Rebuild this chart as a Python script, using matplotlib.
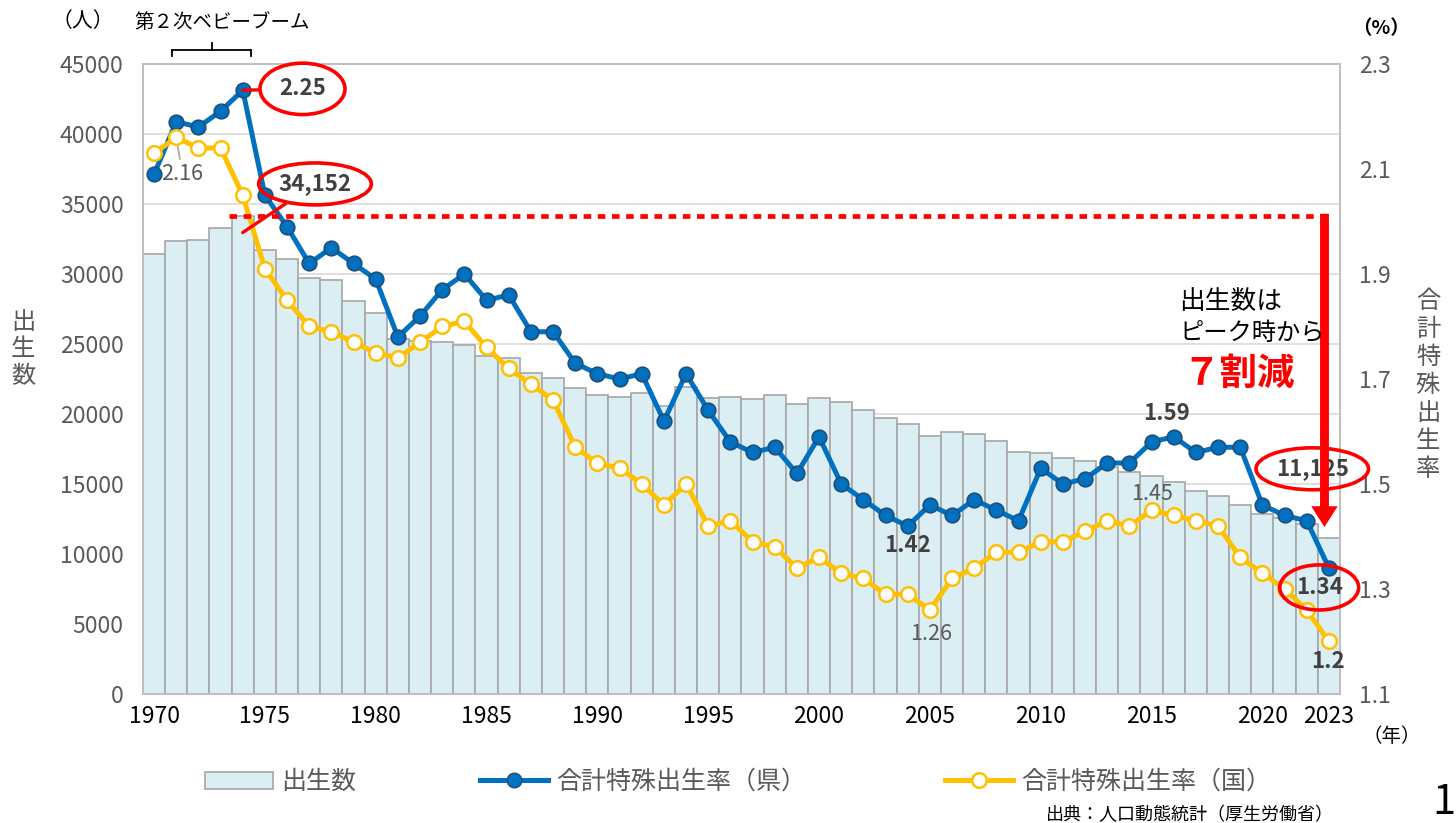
import matplotlib
matplotlib.use('Agg')
import matplotlib.pyplot as plt
from matplotlib.lines import Line2D
from matplotlib.patches import Patch
from matplotlib.transforms import offset_copy

plt.rcParams['font.family'] = ['Noto Sans CJK JP', 'DejaVu Sans']

years = list(range(1970, 2024))
births = [31400, 32360, 32450, 33260, 34152, 31690, 31070, 29740, 29600, 28050,
          27190, 25340, 25250, 25170, 24930, 24140, 23980, 22900, 22550, 21830,
          21330, 21240, 21480, 20600, 21950, 21120, 21240, 21070, 21380, 20710,
          21170, 20830, 20290, 19690, 19310, 18450, 18740, 18600, 18070, 17310,
          17190, 16860, 16620, 16190, 15830, 15600, 15120, 14480, 14140, 13500,
          12830, 12550, 12120, 11125]
tfr_pref = [2.09, 2.19, 2.18, 2.21, 2.25, 2.05, 1.99, 1.92, 1.95, 1.92,
            1.89, 1.78, 1.82, 1.87, 1.90, 1.85, 1.86, 1.79, 1.79, 1.73,
            1.71, 1.70, 1.71, 1.62, 1.71, 1.64, 1.58, 1.56, 1.57, 1.52,
            1.59, 1.50, 1.47, 1.44, 1.42, 1.46, 1.44, 1.47, 1.45, 1.43,
            1.53, 1.50, 1.51, 1.54, 1.54, 1.58, 1.59, 1.56, 1.57, 1.57,
            1.46, 1.44, 1.43, 1.34]
tfr_nat = [2.13, 2.16, 2.14, 2.14, 2.05, 1.91, 1.85, 1.80, 1.79, 1.77,
           1.75, 1.74, 1.77, 1.80, 1.81, 1.76, 1.72, 1.69, 1.66, 1.57,
           1.54, 1.53, 1.50, 1.46, 1.50, 1.42, 1.43, 1.39, 1.38, 1.34,
           1.36, 1.33, 1.32, 1.29, 1.29, 1.26, 1.32, 1.34, 1.37, 1.37,
           1.39, 1.39, 1.41, 1.43, 1.42, 1.45, 1.44, 1.43, 1.42, 1.36,
           1.33, 1.30, 1.26, 1.20]
xticks = [1970, 1975, 1980, 1985, 1990, 1995, 2000, 2005, 2010, 2015, 2020, 2023]
left_ticks = list(range(0, 45001, 5000))
right_ticks = [1.1, 1.3, 1.5, 1.7, 1.9, 2.1, 2.3]

W, H = 1456, 823
def fx(px):
    return px / W
def fy(py):
    return 1 - py / H

BLUE = '#0070C0'
YEL = '#FFC000'
GRAY = '#595959'
DARK = '#404040'

fig = plt.figure(figsize=(W / 100, H / 100), dpi=100)
ax = fig.add_axes([fx(143), fy(694), 1197 / W, 630 / H])

ax.bar(years, births, width=1.0, color='#DAEEF3', edgecolor='#A6A6A6', linewidth=1.2, zorder=2)
ax.set_xlim(1969.5, 2023.5)
ax.set_ylim(0, 45000)
ax.set_yticks(left_ticks)
ax.set_xticks(xticks)
ax.set_axisbelow(True)
ax.yaxis.grid(True, color='#D9D9D9', linewidth=1.2)
ax.tick_params(axis='y', length=0, labelsize=16.5, labelcolor=GRAY, pad=14)
ax.tick_params(axis='x', length=0, labelsize=16.5, labelcolor='black', pad=8)

ax2 = ax.twinx()
ax2.plot(years, tfr_pref, color=BLUE, lw=3.6, marker='o', ms=10.5,
         mfc=BLUE, mec='#1F4E79', mew=1.2, zorder=3)
ax2.plot(years, tfr_nat, color=YEL, lw=3.6, marker='o', ms=10.5,
         mfc='white', mec=YEL, mew=1.8, zorder=4)

for a in (ax, ax2):
    for s in a.spines.values():
        s.set_color('#BFBFBF')
        s.set_linewidth(1.3)
ax2.tick_params(axis='y', length=0, labelsize=16.5, labelcolor=GRAY, pad=14)

# peak line and arrow
i_peak = births.index(max(births))
peak = births[i_peak]
ax2.plot([years[i_peak] - 0.6, years[-1] - 0.2], [peak, peak], transform=ax.transData,
         color='#FF0000', lw=3.4, linestyle=(0, (1.6, 1.4)), zorder=6)
ax2.annotate('', xy=(years[-1] - 0.2, births[-1] + 800), xycoords=ax.transData,
             xytext=(years[-1] - 0.2, peak + 150), textcoords=ax.transData,
             arrowprops=dict(arrowstyle='simple,head_length=0.75,head_width=0.95,tail_width=0.32',
                             color='#FF0000', lw=0, mutation_scale=20, shrinkA=0, shrinkB=0),
             zorder=8)

ell = dict(boxstyle='ellipse,pad=0.15', fc='none', ec='#FF0000', lw=2.6)
lab = dict(fontsize=16, fontweight='bold', color=DARK, ha='center', va='center')
plain = dict(fontsize=15.5, color=GRAY, ha='center', va='center')

i_tmax = tfr_pref.index(max(tfr_pref))
ax2.annotate(f'{tfr_pref[i_tmax]:.2f}', xy=(years[i_tmax], tfr_pref[i_tmax]),
             xytext=(43, 1), textcoords='offset points', bbox=dict(ell, boxstyle='ellipse,pad=0.3'),
             arrowprops=dict(arrowstyle='-', color='#FF0000', lw=2.4, shrinkA=0, shrinkB=0),
             zorder=7, **lab)
ax2.annotate(f'{peak:,}', xy=(years[i_peak], peak),
             xycoords=offset_copy(ax.transData, fig=fig, x=0, y=-12, units='points'),
             xytext=(52, 35), textcoords='offset points', bbox=ell,
             arrowprops=dict(arrowstyle='-', color='#FF0000', lw=2.4, shrinkA=0, shrinkB=0),
             zorder=7, **lab)
ax2.annotate(f'{births[-1]:,}', xy=(years[-1], births[-1]), xycoords=ax.transData,
             xytext=(-12, 50), textcoords='offset points', bbox=ell, zorder=7, **lab)
ax2.annotate(f'{tfr_pref[-1]:.2f}', xy=(years[-1], tfr_pref[-1]),
             xytext=(-7, -14), textcoords='offset points', bbox=dict(ell, boxstyle='ellipse,pad=0.2'),
             zorder=7, **lab)
ax2.annotate(f'{tfr_nat[-1]:.1f}', xy=(years[-1], tfr_nat[-1]),
             xytext=(-1, -14.5), textcoords='offset points', zorder=7, **lab)
i = years.index(2016)
ax2.annotate(f'{tfr_pref[i]:.2f}', xy=(years[i], tfr_pref[i]),
             xytext=(-5, 16.5), textcoords='offset points', zorder=7, **lab)
i = years.index(2004)
ax2.annotate(f'{tfr_pref[i]:.2f}', xy=(years[i], tfr_pref[i]),
             xytext=(0, -14), textcoords='offset points', zorder=7, **lab)
i = years.index(2015)
ax2.annotate(f'{tfr_nat[i]:.2f}', xy=(years[i], tfr_nat[i]),
             xytext=(0, 12), textcoords='offset points', zorder=7, **plain)
i = years.index(2005)
ax2.annotate(f'{tfr_nat[i]:.2f}', xy=(years[i], tfr_nat[i]),
             xytext=(1, -17), textcoords='offset points', zorder=7, **plain)
i = years.index(1971)
ax2.annotate(f'{tfr_nat[i]:.2f}', xy=(years[i], tfr_nat[i]),
             xytext=(4.5, -26.5), textcoords='offset points',
             arrowprops=dict(arrowstyle='-', color='#A6A6A6', lw=1.2, shrinkA=1, shrinkB=3),
             zorder=2, **plain)

ax2.set_ylim(1.1, 2.3)
ax2.set_yticks(right_ticks)
ax2.set_yticklabels([f'{v:.1f}' for v in right_ticks])
ax.set_xlim(1969.5, 2023.5)

# texts
fig.text(fx(1179), fy(302), '出生数は', fontsize=18.5, color='black', ha='left', va='center')
fig.text(fx(1179), fy(333), 'ピーク時から', fontsize=17.5, color='black', ha='left', va='center')
fig.text(fx(1239), fy(373), '７割減', fontsize=27, fontweight='bold', color='#FF0000',
         ha='center', va='center')
fig.text(fx(83), fy(21), '（人）', fontsize=15, color='black', ha='center', va='center')
fig.text(fx(222), fy(22), '第２次ベビーブーム', fontsize=14, color='black', ha='center', va='center')
fig.text(fx(1381), fy(29), '（%）', fontsize=14, color='black', ha='center', va='center',
         fontweight='bold')
fig.text(fx(1392), fy(737), '（年）', fontsize=14, color='black', ha='center', va='center')
fig.text(fx(23), fy(349), '出\n生\n数', fontsize=17.5, color=GRAY, ha='center', va='center',
         linespacing=1.05)
fig.text(fx(1428), fy(385), '合\n計\n特\n殊\n出\n生\n率', fontsize=17.5, color=GRAY,
         ha='center', va='center', linespacing=1.1)
fig.text(fx(1190), fy(815), '出典：人口動態統計（厚生労働省）', fontsize=13, color='black',
         ha='center', va='center')
fig.text(fx(1432), fy(803), '1', fontsize=30, color='black', ha='left', va='center')

# bracket for baby boom
bx0, bx1, bxc = fx(172), fx(251), fx(212)
for xs, ys in [([bx0, bx1], [fy(50), fy(50)]), ([bx0, bx0], [fy(50), fy(56)]),
               ([bx1, bx1], [fy(50), fy(56)]), ([bxc, bxc], [fy(50), fy(43)])]:
    fig.add_artist(Line2D(xs, ys, color='black', lw=1.3))

# legends
leg_kw = dict(loc='center left', frameon=False, fontsize=18, labelcolor=GRAY,
              handlelength=2.7, handletextpad=0.35, borderpad=0, borderaxespad=0)
fig.legend([Patch(fc='#DAEEF3', ec='#A6A6A6', lw=1.2)], ['出生数'],
           bbox_to_anchor=(fx(205), fy(782)), **leg_kw)
fig.legend([Line2D([], [], color=BLUE, lw=3.6, marker='o', ms=10.5, mfc=BLUE, mec='#1F4E79')],
           ['合計特殊出生率（県）'], bbox_to_anchor=(fx(480), fy(782)), **leg_kw)
fig.legend([Line2D([], [], color=YEL, lw=3.6, marker='o', ms=10.5, mfc='white', mec=YEL, mew=1.8)],
           ['合計特殊出生率（国）'], bbox_to_anchor=(fx(945), fy(782)), **leg_kw)

fig.savefig('out.png', dpi=100)
